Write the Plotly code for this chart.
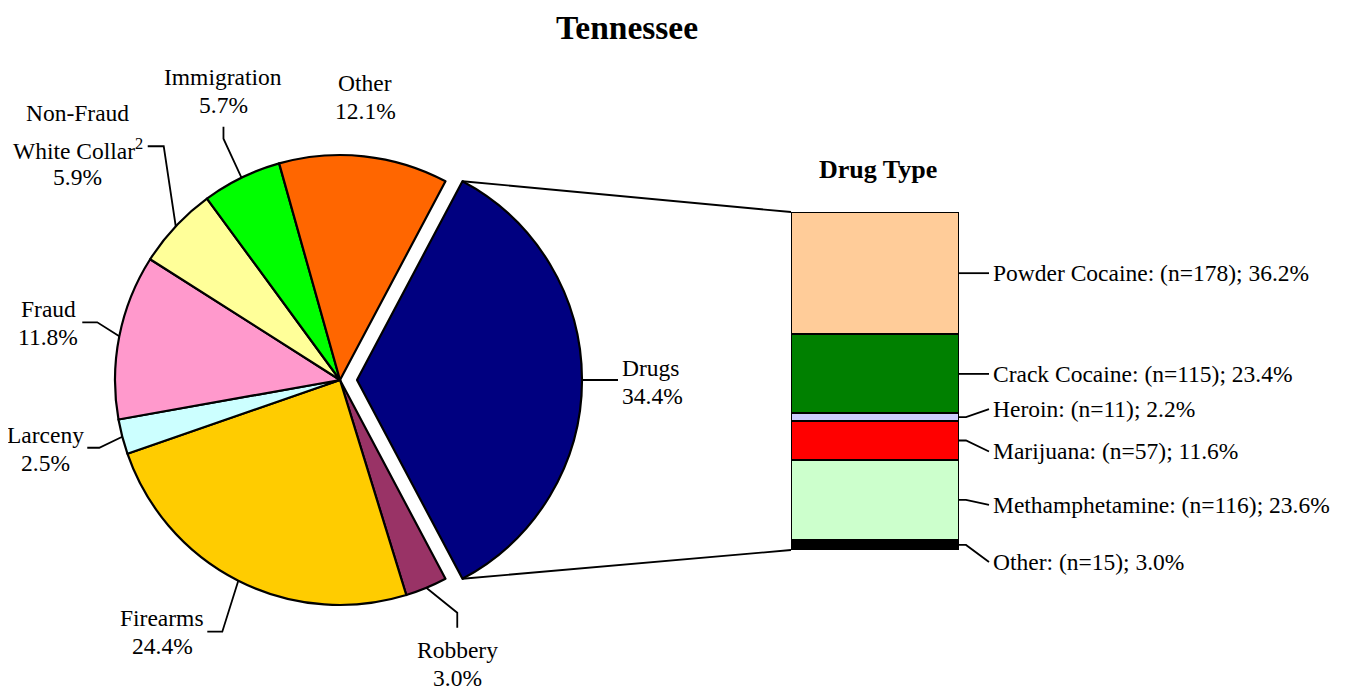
import math
import plotly.graph_objects as go

# ---------------- data ----------------
offense_labels = ["Drugs", "Robbery", "Firearms", "Larceny", "Fraud",
                  "Non-Fraud White Collar", "Immigration", "Other"]
offense_display = ["Drugs", "Robbery", "Firearms", "Larceny", "Fraud",
                   "Non-Fraud<br>White Collar<sup>2</sup>", "Immigration", "Other"]
offense_pct = [34.4, 3.0, 24.4, 2.5, 11.8, 5.9, 5.7, 12.1]
offense_colors = ["#000080", "#993366", "#FFCC00", "#CCFFFF", "#FF99CC",
                  "#FFFF99", "#00FF00", "#FF6600"]

drug_labels = ["Powder Cocaine", "Crack Cocaine", "Heroin", "Marijuana",
               "Methamphetamine", "Other"]
drug_n = [178, 115, 11, 57, 116, 15]
drug_pct = [36.2, 23.4, 2.2, 11.6, 23.6, 3.0]
drug_colors = ["#FFCC99", "#008000", "#CCCCFF", "#FF0000", "#CCFFCC", "#000000"]

title_text = "Tennessee"
subtitle_text = "Drug Type"

# ---------------- layout constants (pixels of the browser window) ----------------
WIN_W, WIN_H = 1347, 697
OFF = 8                                  # default page margin around the plot div
W, H = WIN_W - OFF, WIN_H - OFF
FONT = "Liberation Serif, Times New Roman, serif"
LABEL_SIZE = 23.5
LINE_GAP = 28
SUP_EXTRA = 8
CX, CY, R = 340.0, 380.0, 225.0        # pie centre and radius
PULL = 17.0 / R                          # explode fraction of first slice
BAR_L, BAR_R, BAR_T, BAR_B = 791.0, 959.0, 212.0, 550.0
LEADER_W = 1.8
EDGE_W = 2.2

# label leader geometry: offsets relative to the slice's mid-arc point
pie_label_layout = {
    "Drugs":       dict(path=[(0, 0), (36, 0)], text=(38, 2), xanchor="left"),
    "Robbery":     dict(path=[(0, 0), (31, 25), (31, 40)], text=(31, 76), xanchor="center"),
    "Firearms":    dict(path=[(0, 0), (-16, 51), (-31, 51)], text=(-76, 51), xanchor="center"),
    "Larceny":     dict(path=[(0, 0), (-23, 11), (-35, 11)], text=(-77, 12), xanchor="center"),
    "Fraud":       dict(path=[(0, 0), (-22, -14), (-37, -14)], text=(-71, -13), xanchor="center"),
    "Non-Fraud White Collar": dict(path=[(0, 0), (-12, -80), (-28, -80)], text=(-98, -81), xanchor="center"),
    "Immigration": dict(path=[(0, 0), (-18, -39), (-18, -51)], text=(-18, -87), xanchor="center"),
    "Other":       dict(path=None, text=(1, -59), xanchor="center"),
}
drug_label_dy = [0, 0, -8, 11, 5, 17]


def px(x):
    return (x - OFF) / W


def py(y):
    return 1 - (y - OFF) / H


fig = go.Figure()
annotations = []
shapes = []


def add_text_block(text, x, y, xanchor, size=LABEL_SIZE, bold=False):
    lines = text.split("<br>")
    offs = [0.0]
    for ln in lines[1:]:
        offs.append(offs[-1] + LINE_GAP + (SUP_EXTRA if "<sup>" in ln else 0))
    c = offs[-1] / 2
    for ln, o in zip(lines, offs):
        annotations.append(dict(
            text=f"<b>{ln}</b>" if bold else ln, x=px(x), y=py(y + o - c),
            xref="paper", yref="paper", showarrow=False,
            xanchor=xanchor, yanchor="middle", align="center",
            font=dict(family=FONT, size=size, color="black")))


# ---------------- pie ----------------
total = sum(offense_pct)
first_span = offense_pct[0] / total * 360.0
rotation = 90.0 - first_span / 2.0
pulls = [PULL] + [0] * (len(offense_pct) - 1)
half = R * (1 + PULL)
fig.add_trace(go.Pie(
    labels=offense_labels, values=offense_pct, sort=False, direction="clockwise",
    rotation=rotation, pull=pulls, textinfo="none", showlegend=False,
    marker=dict(colors=offense_colors, line=dict(color="black", width=EDGE_W)),
    domain=dict(x=[px(CX - half), px(CX + half)], y=[py(CY + half), py(CY - half)]),
    hoverinfo="label+percent",
))

start = 90.0 - rotation  # math angle (deg) where first slice starts
cum = 0.0
for lab, disp, v in zip(offense_labels, offense_display, offense_pct):
    span = v / total * 360.0
    mid = math.radians(start - (cum + span / 2))
    cum += span
    ox, oy = CX, CY
    if lab == offense_labels[0]:
        ox += PULL * R * math.cos(mid)
        oy -= PULL * R * math.sin(mid)
    ax = ox + R * math.cos(mid)
    ay = oy - R * math.sin(mid)
    lay = pie_label_layout[lab]
    if lay["path"]:
        d = " ".join(("M" if i == 0 else "L") + f" {px(ax + dx):.5f} {py(ay + dy):.5f}"
                     for i, (dx, dy) in enumerate(lay["path"]))
        shapes.append(dict(type="path", path=d, xref="paper", yref="paper",
                           line=dict(color="black", width=LEADER_W)))
    tx, ty = lay["text"]
    add_text_block(f"{disp}<br>{v:.1f}%", ax + tx, ay + ty, lay["xanchor"])

# connector lines from exploded slice to bar
a0 = math.radians(start)
a1 = math.radians(start - first_span)
amid = math.radians(start - first_span / 2)
pcx = CX + PULL * R * math.cos(amid)
pcy = CY - PULL * R * math.sin(amid)
top_pt = (pcx + R * math.cos(a0), pcy - R * math.sin(a0))
bot_pt = (pcx + R * math.cos(a1), pcy - R * math.sin(a1))
for (sx, sy), (ex, ey) in [(top_pt, (BAR_L, BAR_T)), (bot_pt, (BAR_L, BAR_B))]:
    shapes.append(dict(type="line", xref="paper", yref="paper",
                       x0=px(sx), y0=py(sy), x1=px(ex), y1=py(ey),
                       line=dict(color="black", width=LEADER_W)))

# ---------------- stacked bar ----------------
for lab, n, p, c in reversed(list(zip(drug_labels, drug_n, drug_pct, drug_colors))):
    fig.add_trace(go.Bar(
        x=[0], y=[p], name=lab, marker=dict(color=c, line=dict(color="black", width=EDGE_W)),
        xaxis="x2", yaxis="y2", showlegend=False, width=1,
        hovertemplate=f"{lab}: (n={n}); {p:.1f}%<extra></extra>"))

drug_total = sum(drug_pct)
scale = (BAR_B - BAR_T) / drug_total
cum = 0.0
for lab, n, p, dy in zip(drug_labels, drug_n, drug_pct, drug_label_dy):
    mid_y = BAR_T + (cum + p / 2) * scale
    cum += p
    ly = mid_y + dy
    d = (f"M {px(BAR_R):.5f} {py(mid_y):.5f} L {px(BAR_R + 7):.5f} {py(mid_y):.5f} "
         f"L {px(BAR_R + 30):.5f} {py(ly):.5f}")
    shapes.append(dict(type="path", path=d, xref="paper", yref="paper",
                       line=dict(color="black", width=LEADER_W)))
    add_text_block(f"{lab}: (n={n}); {p:.1f}%", BAR_R + 32, ly, "left")

add_text_block(title_text, 627, 27, "center", size=33.5, bold=True)
add_text_block(subtitle_text, 878, 169, "center", size=26, bold=True)

fig.update_layout(
    width=W, height=H, margin=dict(l=0, r=0, t=0, b=0),
    paper_bgcolor="white", plot_bgcolor="rgba(0,0,0,0)",
    barmode="stack", bargap=0,
    xaxis=dict(visible=False), yaxis=dict(visible=False),
    xaxis2=dict(domain=[px(BAR_L), px(BAR_R)], range=[-0.5, 0.5], visible=False,
                anchor="y2", fixedrange=True),
    yaxis2=dict(domain=[py(BAR_B), py(BAR_T)], range=[0, drug_total], visible=False,
                anchor="x2", fixedrange=True),
    shapes=shapes, annotations=annotations,
)

fig.write_html("out.html")
